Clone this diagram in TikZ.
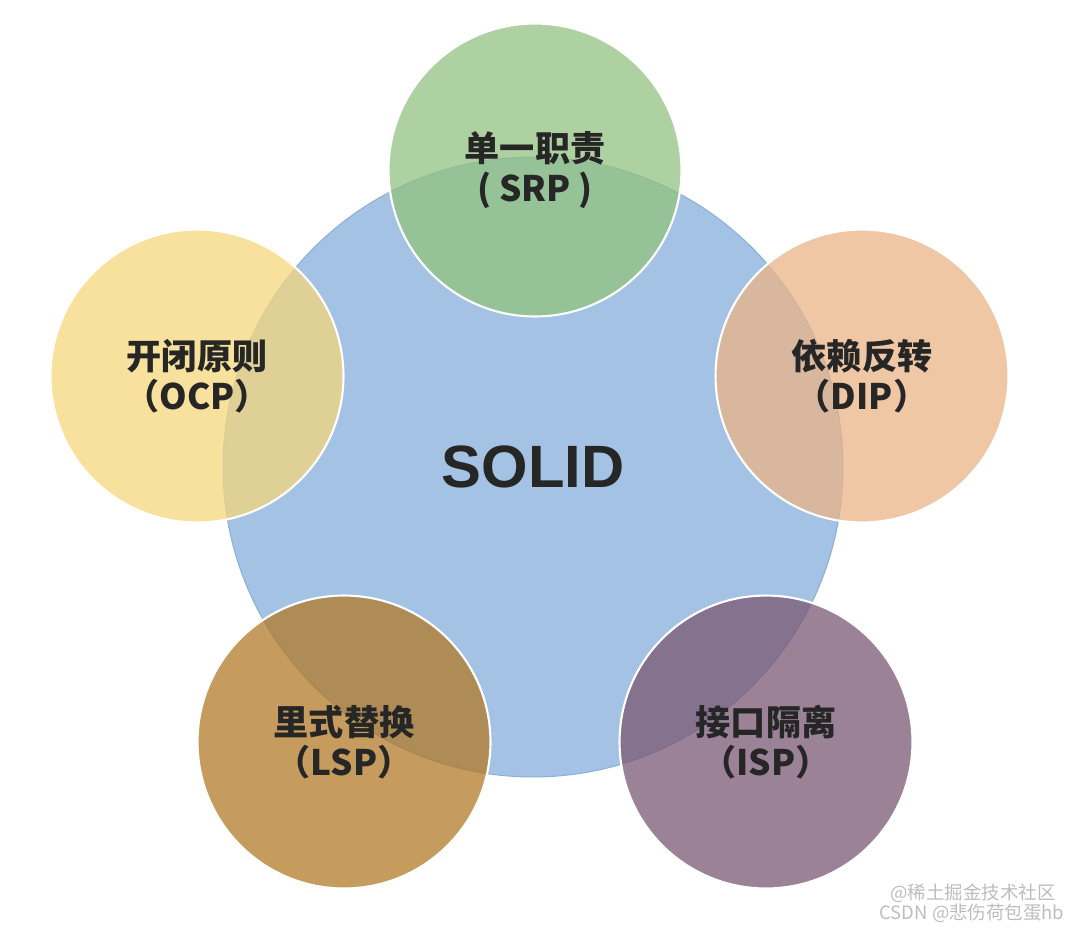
\documentclass[tikz,border=0pt]{standalone}
\usepackage{fontspec}
\setmainfont{Liberation Sans}
\newfontfamily\cjk{Noto Sans CJK SC}
\usepackage{tikz}
\usepackage{xcolor}

\definecolor{solidblue}{HTML}{A4C2E3}
\definecolor{solidedge}{HTML}{8EAFDA}
\definecolor{srpgreen}{HTML}{92C280}
\definecolor{ocpyellow}{HTML}{F4D77B}
\definecolor{dippeach}{HTML}{EBB487}
\definecolor{lspbrown}{HTML}{B37A28}
\definecolor{isppurple}{HTML}{7B5874}
\definecolor{inktext}{HTML}{262626}
\definecolor{markgray}{HTML}{BDBDBD}

\begin{document}
\begin{tikzpicture}[
    x=0.02cm, y=-0.02cm,
    core/.style={circle, draw=solidedge, line width=0.6pt, fill=solidblue, minimum size=12.4cm, inner sep=0pt},
    principle/.style={circle, draw=white, line width=1.2pt, fill opacity=0.75, text opacity=1, minimum size=5.86cm, inner sep=0pt,
        align=center, text=inktext, font=\cjk\bfseries\fontsize{20}{22.5}\selectfont},
    watermark/.style={text=markgray, font=\cjk\fontsize{10.5}{11}\selectfont, inner sep=0pt}
]
\useasboundingbox (0,0) rectangle (1078,930);

% Nodes
\node[core] (solid) at (533,467) {};
\node[text=inktext, font=\bfseries\fontsize{34}{36}\selectfont] (title) at (533,467) {SOLID};

\node[principle, fill=srpgreen] (srp) at (535,170) {单一职责\\( SRP )};
\node[principle, fill=ocpyellow] (ocp) at (197,376) {开闭原则\\（OCP）};
\node[principle, fill=dippeach] (dip) at (862,376) {依赖反转\\（DIP）};
\node[principle, fill=lspbrown] (lsp) at (344,742) {里式替换\\（LSP）};
\node[principle, fill=isppurple] (isp) at (766,742) {接口隔离\\（ISP）};

% Labels
\node[watermark] (site) at (973,893) {@稀土掘金技术社区};
\node[watermark] (author) at (972,913) {CSDN @悲伤荷包蛋hb};

\end{tikzpicture}
\end{document}
